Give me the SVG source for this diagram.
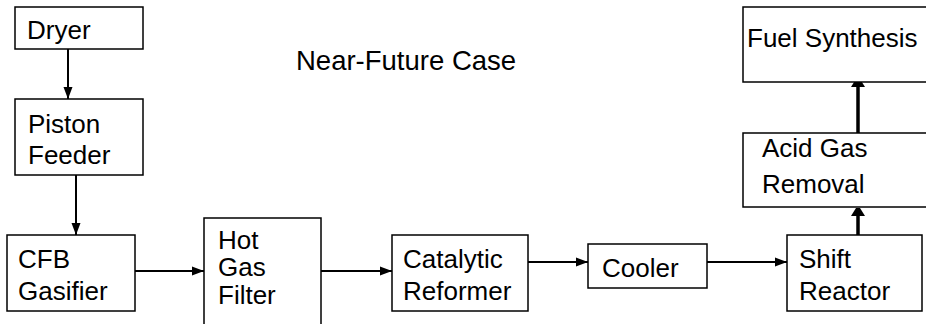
<svg xmlns="http://www.w3.org/2000/svg" width="926" height="324" viewBox="0 0 926 324">
<style>
.box{fill:#fff;stroke:#000;stroke-width:1.5}
.t{font-family:"Liberation Sans",Arial,sans-serif;font-size:26px;fill:#000}
.title{font-family:"Liberation Sans",Arial,sans-serif;font-size:27.5px;fill:#000}
.c{stroke:#000;stroke-width:2;fill:none}
.up{stroke:#000;stroke-width:3.5;fill:none}
</style>
<defs>
<marker id="ah" markerUnits="userSpaceOnUse" markerWidth="12" markerHeight="12" viewBox="0 0 12 12" refX="12" refY="6" orient="auto">
<path d="M0,1.5 L12,6 L0,10.5 Z" fill="#000"/>
</marker>
<marker id="ahu" markerUnits="userSpaceOnUse" markerWidth="8" markerHeight="16" viewBox="0 0 8 16" refX="8" refY="8" orient="auto">
<path d="M0,1 L8,6 L8,10 L0,15 Z" fill="#000"/>
</marker>
</defs>
<rect width="926" height="324" fill="#fff"/>
<text class="title" x="296" y="70">Near-Future Case</text>
<g id="connectors">
<line class="c" x1="68" y1="49" x2="68" y2="99" marker-end="url(#ah)"/>
<line class="c" x1="76" y1="175" x2="76" y2="235" marker-end="url(#ah)"/>
<line class="c" x1="135" y1="271" x2="204" y2="271" marker-end="url(#ah)"/>
<line class="c" x1="321" y1="271" x2="392" y2="271" marker-end="url(#ah)"/>
<line class="c" x1="528" y1="262" x2="588" y2="262" marker-end="url(#ah)"/>
<line class="c" x1="707" y1="262" x2="787" y2="262" marker-end="url(#ah)"/>
<line class="up" x1="858" y1="235" x2="858" y2="208" marker-end="url(#ahu)"/>
<line class="up" x1="858" y1="133" x2="858" y2="79" marker-end="url(#ahu)"/>
</g>
<g id="dryer"><rect class="box" x="15" y="7" width="128" height="42"/><text class="t" x="27" y="39">Dryer</text></g>
<g id="piston-feeder"><rect class="box" x="15" y="99" width="128" height="76"/><text class="t" x="28" y="133">Piston</text><text class="t" x="28" y="164">Feeder</text></g>
<g id="cfb-gasifier"><rect class="box" x="7" y="235" width="128" height="76"/><text class="t" x="18" y="268">CFB</text><text class="t" x="18" y="300">Gasifier</text></g>
<g id="hot-gas-filter"><rect class="box" x="204" y="218" width="117" height="120"/><text class="t" x="218" y="249">Hot</text><text class="t" x="218" y="276">Gas</text><text class="t" x="218" y="304">Filter</text></g>
<g id="catalytic-reformer"><rect class="box" x="392" y="235" width="136" height="76"/><text class="t" x="403" y="268">Catalytic</text><text class="t" x="403" y="300">Reformer</text></g>
<g id="cooler"><rect class="box" x="588" y="244" width="119" height="44"/><text class="t" x="602" y="277">Cooler</text></g>
<g id="shift-reactor"><rect class="box" x="787" y="235" width="135" height="76"/><text class="t" x="799" y="268">Shift</text><text class="t" x="799" y="300">Reactor</text></g>
<g id="acid-gas-removal"><rect class="box" x="743" y="133" width="190" height="74"/><text class="t" x="762" y="157">Acid Gas</text><text class="t" x="762" y="193">Removal</text></g>
<g id="fuel-synthesis"><rect class="box" x="743" y="7" width="190" height="75"/><text class="t" x="747" y="47">Fuel Synthesis</text></g>
</svg>
